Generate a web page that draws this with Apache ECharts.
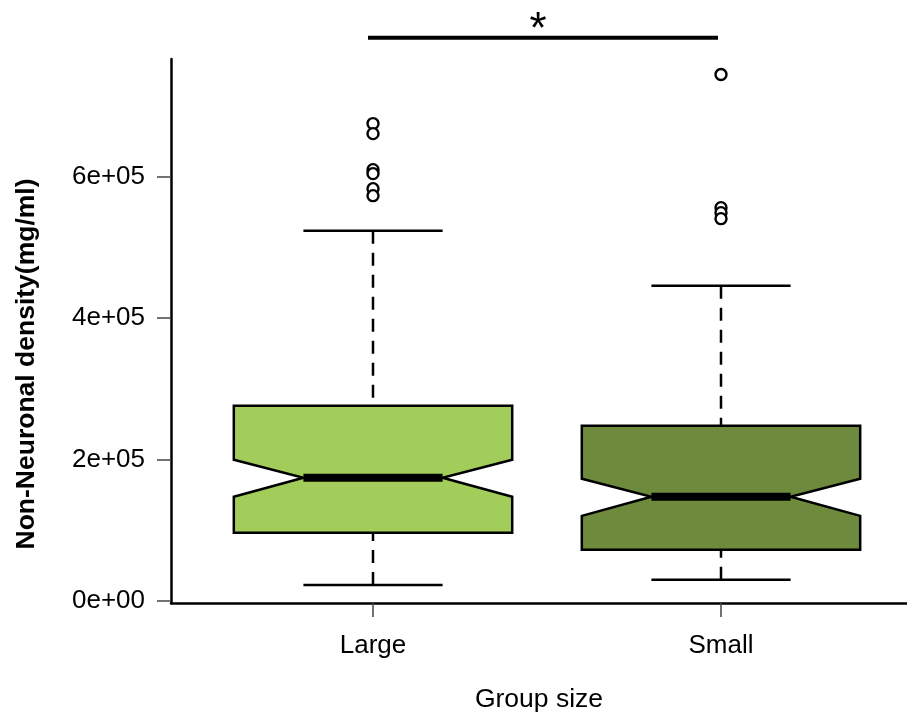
<!DOCTYPE html>
<html>
<head>
<meta charset="utf-8">
<script src="https://cdn.jsdelivr.net/npm/echarts@6/dist/echarts.min.js"></script>
<style>
html,body{margin:0;padding:0;background:#fff;}
#chart{width:907px;height:715px;}
</style>
</head>
<body>
<div id="chart"></div>
<script>
// ---- data ----
const categories = ['Large', 'Small'];
const q1 = [96200, 72100];
const q3 = [275800, 247500];
const medians = [174000, 147100];
const notchLow = [147100, 120200];
const notchHigh = [199400, 172600];
const whiskerLow = [22600, 29700];
const whiskerHigh = [523300, 445500];
const outliersLarge = [674700, 660500, 609600, 604000, 582700, 572800];
const outliersSmall = [744000, 555900, 548800, 540300];
const yTicks = [0, 200000, 400000, 600000];
const yTickLabels = ['0e+00', '2e+05', '4e+05', '6e+05'];
const sigLevel = 796000;
const sigLabel = '*';

// ---- styles ----
const fills = ['#A2CD5A', '#6E8B3D'];
const FONT = 'Liberation Sans, Arial, sans-serif';
const FS = 26;
const FT = 26.5;

const chart = echarts.init(document.getElementById('chart'));

const boxData = categories.map((c, i) => [i + 1, q1[i], q3[i], medians[i], notchLow[i], notchHigh[i], whiskerLow[i], whiskerHigh[i], i]);
const outlierData = [];
outliersLarge.forEach(v => outlierData.push([1, v]));
outliersSmall.forEach(v => outlierData.push([2, v]));

function renderBox(params, api) {
  const x = api.value(0);
  const lo = api.value(1), hi = api.value(2), med = api.value(3);
  const nl = api.value(4), nh = api.value(5), wl = api.value(6), wh = api.value(7);
  const idx = api.value(8);
  const hw = 0.4, nw = 0.2, cw = 0.2;
  const pts = [
    [x - hw, hi], [x + hw, hi], [x + hw, nh], [x + nw, med], [x + hw, nl],
    [x + hw, lo], [x - hw, lo], [x - hw, nl], [x - nw, med], [x - hw, nh]
  ].map(p => api.coord(p));
  const c = (a, b) => api.coord([a, b]);
  const children = [];
  const dash = { stroke: '#000', lineWidth: 2.5, lineDash: [13, 9] };
  const solid = { stroke: '#000', lineWidth: 2.5 };
  let a = c(x, hi), b = c(x, wh);
  children.push({ type: 'line', shape: { x1: b[0], y1: b[1], x2: a[0], y2: a[1] }, style: dash });
  a = c(x, lo); b = c(x, wl);
  children.push({ type: 'line', shape: { x1: b[0], y1: b[1], x2: a[0], y2: a[1] }, style: dash });
  a = c(x - cw, wh); b = c(x + cw, wh);
  children.push({ type: 'line', shape: { x1: a[0], y1: a[1], x2: b[0], y2: b[1] }, style: solid });
  a = c(x - cw, wl); b = c(x + cw, wl);
  children.push({ type: 'line', shape: { x1: a[0], y1: a[1], x2: b[0], y2: b[1] }, style: solid });
  children.push({ type: 'polygon', shape: { points: pts }, style: { fill: fills[idx], stroke: '#000', lineWidth: 2.5 } });
  a = c(x - nw, med); b = c(x + nw, med);
  children.push({ type: 'line', shape: { x1: a[0], y1: a[1], x2: b[0], y2: b[1] }, style: { stroke: '#000', lineWidth: 8 } });
  return { type: 'group', children: children };
}

function renderSig(params, api) {
  const a = api.coord([1, sigLevel]);
  const b = api.coord([2, sigLevel]);
  return {
    type: 'group',
    children: [
      { type: 'line', shape: { x1: a[0] - 5, y1: a[1], x2: b[0] - 3, y2: b[1] }, style: { stroke: '#000', lineWidth: 4 } },
      { type: 'text', x: (a[0] + b[0]) / 2 - 9, y: a[1] + 15, style: { text: sigLabel, font: '44px ' + FONT, fill: '#000', align: 'center', verticalAlign: 'bottom' } }
    ]
  };
}

const option = {
  animation: false,
  backgroundColor: '#fff',
  grid: { left: 171, top: 59, width: 736, height: 544, containLabel: false, outerBoundsMode: 'none' },
  xAxis: {
    type: 'value', min: 0.4195, max: 2.5345,
    splitLine: { show: false },
    axisLine: { show: true, onZero: false, lineStyle: { color: '#000', width: 2.5 } },
    axisTick: { show: true, length: 14, customValues: [1, 2], lineStyle: { color: '#444', width: 1.5 } },
    axisLabel: { customValues: [1, 2], formatter: v => categories[Math.round(v) - 1], color: '#000', fontSize: FS, fontFamily: FONT, margin: 30 },
    name: 'Group size', nameLocation: 'middle', nameGap: 83,
    nameTextStyle: { color: '#000', fontSize: FT, fontFamily: FONT }
  },
  yAxis: {
    type: 'value', min: -3000, max: 766000,
    splitLine: { show: false },
    axisLine: { show: true, onZero: false, lineStyle: { color: '#000', width: 2.5 } },
    axisTick: { show: true, length: 14, customValues: yTicks, lineStyle: { color: '#444', width: 1.5 } },
    axisLabel: { customValues: yTicks, formatter: v => yTickLabels[yTicks.indexOf(v)], color: '#000', fontSize: FS, fontFamily: FONT, margin: 26 }
  },
  graphic: [
    { type: 'text', x: 27, y: 364, rotation: Math.PI / 2,
      style: { text: 'Non-Neuronal density(mg/ml)', font: 'bold ' + FT + 'px ' + FONT, fill: '#000', align: 'center', verticalAlign: 'middle' } }
  ],
  series: [
    { type: 'custom', renderItem: renderBox, data: boxData, clip: false, encode: { x: 0, y: [1, 2, 6, 7] }, z: 2 },
    { type: 'scatter', data: outlierData, symbol: 'circle', symbolSize: 11,
      itemStyle: { color: '#fff', borderColor: '#000', borderWidth: 2.4, opacity: 1 }, z: 3 },
    { type: 'custom', renderItem: renderSig, data: [[1.5, sigLevel]], clip: false, encode: { x: 0, y: 1 }, z: 4 }
  ]
};
chart.setOption(option);
</script>
</body>
</html>
